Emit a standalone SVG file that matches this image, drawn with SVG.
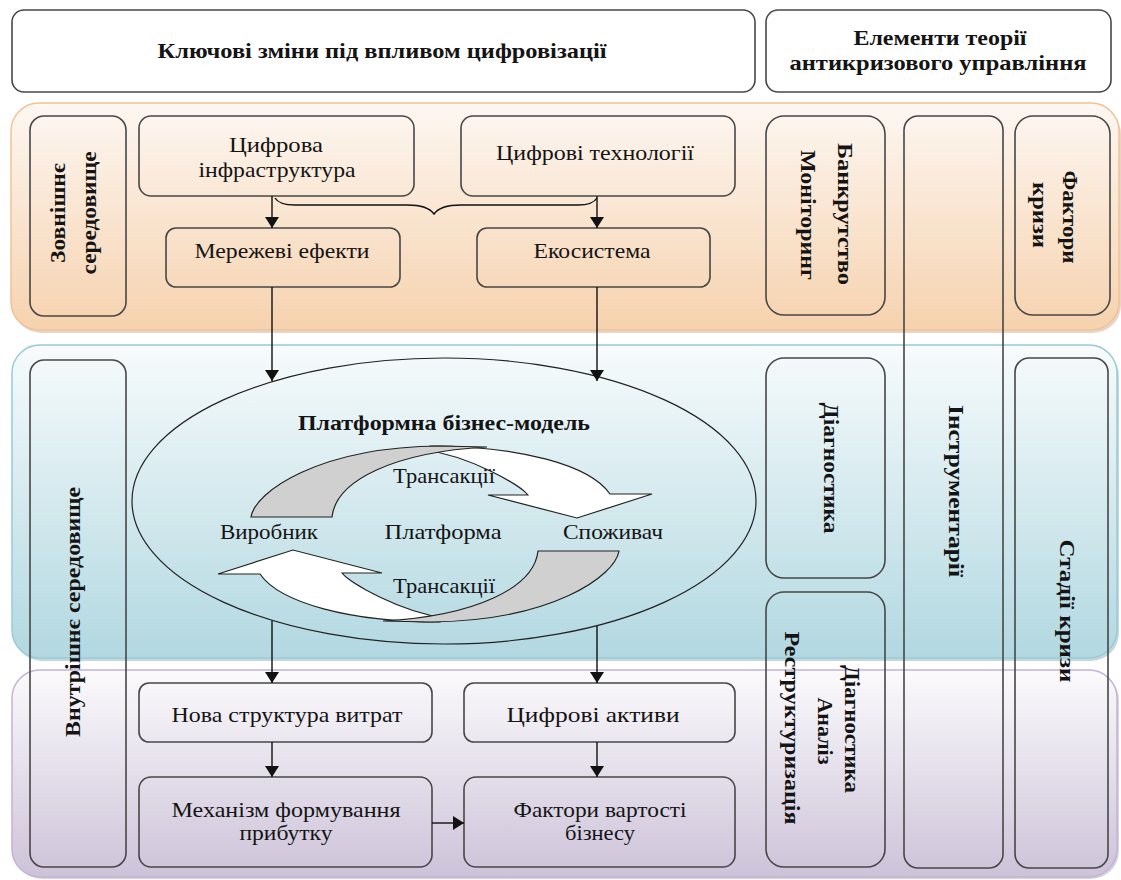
<svg xmlns="http://www.w3.org/2000/svg" width="1121" height="880" viewBox="0 0 1121 880">
<defs>
<linearGradient id="gOr" x1="0" y1="0" x2="0" y2="1"><stop offset="0" stop-color="#fdf7f2"/><stop offset="1" stop-color="#f6d2ae"/></linearGradient>
<linearGradient id="gBl" x1="0" y1="0" x2="0" y2="1"><stop offset="0" stop-color="#f7fbfc"/><stop offset="1" stop-color="#b2d8e1"/></linearGradient>
<linearGradient id="gPu" x1="0" y1="0" x2="0" y2="1"><stop offset="0" stop-color="#fbfafc"/><stop offset="1" stop-color="#cdc3d9"/></linearGradient>
<marker id="ah" viewBox="0 0 11 14" refX="11" refY="7" markerWidth="11" markerHeight="14" markerUnits="userSpaceOnUse" orient="auto"><path d="M0,0 L11,7 L0,14 z" fill="#111"/></marker>
</defs>
<style>
.box{fill:none;stroke:#474747;stroke-width:1.6}
.wbox{fill:#fff;stroke:#474747;stroke-width:1.6}
.t{font-family:"Liberation Serif","DejaVu Serif","Times New Roman",serif;font-size:21px;fill:#141414;text-anchor:middle}
.b{font-weight:bold}
.v{dominant-baseline:central}
.con{fill:none;stroke:#111;stroke-width:1.4}
.grey{fill:#d0d0d0;stroke:#222;stroke-width:1.2}
.wht{fill:#fff;stroke:#222;stroke-width:1.2}
.shd{opacity:0.45}
</style>

<g id="bands">
<rect class="shd" x="13" y="106" width="1108" height="227" rx="28" fill="#c9a584"/>
<rect x="11" y="103" width="1108" height="227" rx="28" fill="url(#gOr)" stroke="#f0c395" stroke-width="1.5"/>
<rect class="shd" x="14" y="348" width="1105" height="313" rx="28" fill="#7ea7b1"/>
<rect x="12" y="345" width="1105" height="313" rx="28" fill="url(#gBl)" stroke="#98cbd8" stroke-width="1.5"/>
<rect class="shd" x="14" y="672" width="1105" height="207" rx="28" fill="#a99bb8"/>
<rect x="12" y="670" width="1105" height="207" rx="28" fill="url(#gPu)" stroke="#c3b3d5" stroke-width="1.5"/>
</g>

<g id="title-left"><rect class="wbox" x="12" y="10" width="743" height="82" rx="12"/>
<text class="t b" x="382" y="58" textLength="449" lengthAdjust="spacingAndGlyphs">Ключові зміни під впливом цифровізації</text></g>
<g id="title-right"><rect class="wbox" x="766" y="10" width="345" height="82" rx="12"/>
<text class="t b" x="940" y="45" textLength="173" lengthAdjust="spacingAndGlyphs">Елементи теорії</text>
<text class="t b" x="938" y="70" textLength="297" lengthAdjust="spacingAndGlyphs">антикризового управління</text></g>

<g id="zovnishne"><rect class="box" x="30" y="116" width="96" height="200" rx="14"/>
<text class="t b v" transform="translate(58,213) rotate(-90)" textLength="100" lengthAdjust="spacingAndGlyphs">Зовнішнє</text>
<text class="t b v" transform="translate(89,213) rotate(-90)" textLength="123" lengthAdjust="spacingAndGlyphs">середовище</text></g>

<g id="cyfr-infra"><rect class="box" x="139" y="116" width="275" height="80" rx="12"/>
<text class="t" x="276" y="152" textLength="94" lengthAdjust="spacingAndGlyphs">Цифрова</text>
<text class="t" x="277" y="177" textLength="157" lengthAdjust="spacingAndGlyphs">інфраструктура</text></g>
<g id="cyfr-tech"><rect class="box" x="461" y="116" width="274" height="80" rx="12"/>
<text class="t" x="595" y="160" textLength="198" lengthAdjust="spacingAndGlyphs">Цифрові технології</text></g>
<g id="merezhevi"><rect class="box" x="166" y="228" width="234" height="59" rx="10"/>
<text class="t" x="282" y="258" textLength="175" lengthAdjust="spacingAndGlyphs">Мережеві ефекти</text></g>
<g id="ekosystema"><rect class="box" x="477" y="228" width="233" height="59" rx="10"/>
<text class="t" x="592" y="258" textLength="117" lengthAdjust="spacingAndGlyphs">Екосистема</text></g>

<g id="bankrutstvo"><rect class="box" x="766" y="116" width="119" height="199" rx="18"/>
<text class="t b v" transform="translate(845,214) rotate(90)" textLength="142" lengthAdjust="spacingAndGlyphs">Банкрутство</text>
<text class="t b v" transform="translate(808,215) rotate(90)" textLength="130" lengthAdjust="spacingAndGlyphs">Моніторинг</text></g>
<g id="instrumentarii"><rect class="box" x="904" y="116" width="99" height="752" rx="14"/>
<text class="t b v" transform="translate(956,491) rotate(90)" textLength="172" lengthAdjust="spacingAndGlyphs">Інструментарії</text></g>
<g id="faktory-kryzy"><rect class="box" x="1015" y="116" width="95" height="199" rx="18"/>
<text class="t b v" transform="translate(1070,217) rotate(90)" textLength="93" lengthAdjust="spacingAndGlyphs">Фактори</text>
<text class="t b v" transform="translate(1040,215) rotate(90)" textLength="66" lengthAdjust="spacingAndGlyphs">кризи</text></g>

<g id="vnutrishne"><rect class="box" x="30" y="360" width="96" height="507" rx="14"/>
<text class="t b v" transform="translate(73,612) rotate(-90)" textLength="250" lengthAdjust="spacingAndGlyphs">Внутрішнє середовище</text></g>
<g id="diagnostyka"><rect class="box" x="766" y="358" width="119" height="220" rx="18"/>
<text class="t b v" transform="translate(831,468) rotate(90)" textLength="131" lengthAdjust="spacingAndGlyphs">Діагностика</text></g>
<g id="stadii"><rect class="box" x="1015" y="358" width="93" height="510" rx="14"/>
<text class="t b v" transform="translate(1067,611) rotate(90)" textLength="143" lengthAdjust="spacingAndGlyphs">Стадії кризи</text></g>
<g id="restrukt"><rect class="box" x="766" y="592" width="119" height="275" rx="18"/>
<text class="t b v" transform="translate(852,729) rotate(90)" textLength="128" lengthAdjust="spacingAndGlyphs">Діагностика</text>
<text class="t b v" transform="translate(825,731) rotate(90)" textLength="67" lengthAdjust="spacingAndGlyphs">Аналіз</text>
<text class="t b v" transform="translate(792,728) rotate(90)" textLength="193" lengthAdjust="spacingAndGlyphs">Реструктуризація</text></g>

<g id="platform">
<ellipse cx="444" cy="501" rx="312" ry="143" fill="none" stroke="#222" stroke-width="1.2"/>
<text class="t b" x="444" y="430" textLength="292" lengthAdjust="spacingAndGlyphs">Платформна бізнес-модель</text>
<g id="cycle-top">
<path class="wht" d="M430,446 C520,446 590,465 610,494 L652,494 L577,518 L488,495 L528,495 C520,485 470,456 425,450 Z"/>
<path class="grey" d="M251,517 C255,492 318,447 440,446 L487,447 C395,452 336,480 332,517 Z"/>
</g>
<g id="cycle-bottom" transform="rotate(180 435 534)">
<path class="wht" d="M430,446 C520,446 590,465 610,494 L652,494 L577,518 L488,495 L528,495 C520,485 470,456 425,450 Z"/>
<path class="grey" d="M251,517 C255,492 318,447 440,446 L487,447 C395,452 336,480 332,517 Z"/>
</g>
<text class="t" x="444" y="483" textLength="102" lengthAdjust="spacingAndGlyphs">Трансакції</text>
<text class="t" x="269" y="539" textLength="98" lengthAdjust="spacingAndGlyphs">Виробник</text>
<text class="t" x="443" y="539" textLength="117" lengthAdjust="spacingAndGlyphs">Платформа</text>
<text class="t" x="613" y="539" textLength="100" lengthAdjust="spacingAndGlyphs">Споживач</text>
<text class="t" x="444" y="593" textLength="102" lengthAdjust="spacingAndGlyphs">Трансакції</text>
</g>

<g id="nova-struktura"><rect class="box" x="139" y="683" width="293" height="59" rx="10"/>
<text class="t" x="287" y="722" textLength="231" lengthAdjust="spacingAndGlyphs">Нова структура витрат</text></g>
<g id="cyfr-aktyvy"><rect class="box" x="464" y="683" width="271" height="59" rx="10"/>
<text class="t" x="593" y="722" textLength="173" lengthAdjust="spacingAndGlyphs">Цифрові активи</text></g>
<g id="mekhanizm"><rect class="box" x="139" y="777" width="293" height="90" rx="12"/>
<text class="t" x="286" y="817" textLength="229" lengthAdjust="spacingAndGlyphs">Механізм формування</text>
<text class="t" x="286" y="840" textLength="93" lengthAdjust="spacingAndGlyphs">прибутку</text></g>
<g id="faktory-vartosti"><rect class="box" x="464" y="777" width="271" height="90" rx="12"/>
<text class="t" x="600" y="817" textLength="173" lengthAdjust="spacingAndGlyphs">Фактори вартості</text>
<text class="t" x="600" y="840" textLength="70" lengthAdjust="spacingAndGlyphs">бізнесу</text></g>

<g id="connectors">
<path class="con" d="M275,198 C278,203 285,205 295,205 L407,205 C420,205 430,208 434,214 C438,208 448,205 461,205 L578,205 C588,205 594,203 597,198"/>
<line class="con" x1="272" y1="196" x2="272" y2="228" marker-end="url(#ah)"/>
<line class="con" x1="597" y1="196" x2="597" y2="228" marker-end="url(#ah)"/>
<line class="con" x1="272" y1="287" x2="272" y2="381" marker-end="url(#ah)"/>
<line class="con" x1="597" y1="287" x2="597" y2="381" marker-end="url(#ah)"/>
<line class="con" x1="272" y1="621" x2="272" y2="683" marker-end="url(#ah)"/>
<line class="con" x1="597" y1="626" x2="597" y2="683" marker-end="url(#ah)"/>
<line class="con" x1="272" y1="742" x2="272" y2="777" marker-end="url(#ah)"/>
<line class="con" x1="597" y1="742" x2="597" y2="777" marker-end="url(#ah)"/>
<line class="con" x1="432" y1="823" x2="464" y2="823" marker-end="url(#ah)"/>
</g>
</svg>
